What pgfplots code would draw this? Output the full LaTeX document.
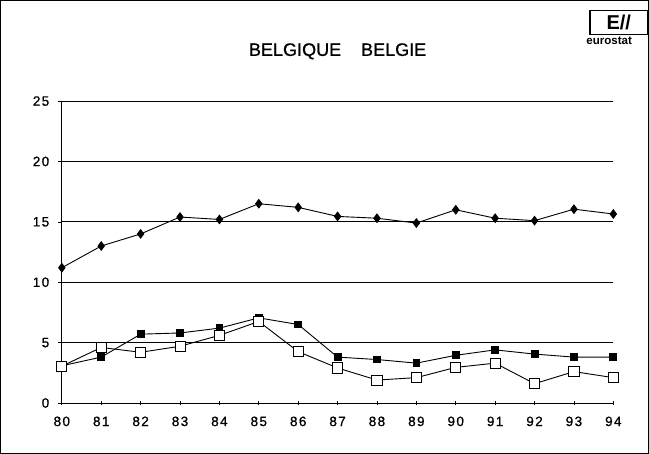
\documentclass[border=0pt]{standalone}
\usepackage{pgfplots}
\pgfplotsset{compat=1.18}
\usepackage{fontspec}
\setmainfont{Liberation Sans}
\newfontfamily\tickfont[LetterSpace=10, FakeBold=0.8]{Liberation Sans}
\newfontfamily\titlefont[FakeBold=0.8]{Liberation Sans}
\begin{document}
\begin{tikzpicture}[x=1bp,y=1bp]
\draw[line width=0.9bp] (4,-3) rectangle (648,-453);
\node[draw, line width=1.8bp, inner sep=0.5bp, minimum width=57bp, minimum height=24bp, font=\bfseries\fontsize{20}{20}\selectfont, anchor=north west] at (589,-12) {E//};
\node[font=\bfseries\fontsize{11.5}{12}\selectfont, inner sep=0pt, anchor=west] at (586,-43) {eurostat};
\node[font=\titlefont\fontsize{18}{18}\selectfont] at (339,-53.5) {BELGIQUE\hspace{1.1em}BELGIE};
\begin{axis}[
  at={(65bp,-403bp)}, anchor=south west,
  scale only axis, width=548bp, height=300bp,
  xmin=80, xmax=94, ymin=0, ymax=25,
  axis x line=bottom, axis y line=left,
  axis line style={-, line width=0.9bp},
  xtick={80,...,94}, ytick={0,5,...,25},
  ymajorgrids, grid style={black, line width=0.9bp},
  major tick length=4bp,
  xtick align=center, ytick align=outside,
  tick style={black, line width=0.7bp},
  ticklabel style={font=\tickfont\fontsize{13.5}{14}\selectfont},
  /pgf/number format/assume math mode=true,
  xticklabel style={yshift=-8bp},
  yticklabel style={xshift=-5bp},
  clip=false,
]
\addplot[black, line width=0.9bp, mark=diamond*, mark size=4.2bp] coordinates {
(80,11.2) (81,13.0) (82,14.0) (83,15.4) (84,15.2) (85,16.5) (86,16.2) (87,15.45)
(88,15.3) (89,14.9) (90,16.0) (91,15.3) (92,15.1) (93,16.05) (94,15.65)};
\addplot[black, line width=0.9bp, mark=square*, mark size=3.4bp] coordinates {
(80,3.08) (81,3.8) (82,5.7) (83,5.8) (84,6.2) (85,7.05) (86,6.5) (87,3.8)
(88,3.6) (89,3.3) (90,3.95) (91,4.4) (92,4.05) (93,3.8) (94,3.8)};
\addplot[black, line width=0.9bp, mark=square*, mark size=5bp, mark options={fill=white}] coordinates {
(80,3.05) (81,4.6) (82,4.2) (83,4.7) (84,5.6) (85,6.75) (86,4.25) (87,2.9)
(88,1.9) (89,2.1) (90,2.95) (91,3.3) (92,1.6) (93,2.6) (94,2.1)};
\end{axis}
\end{tikzpicture}
\end{document}
